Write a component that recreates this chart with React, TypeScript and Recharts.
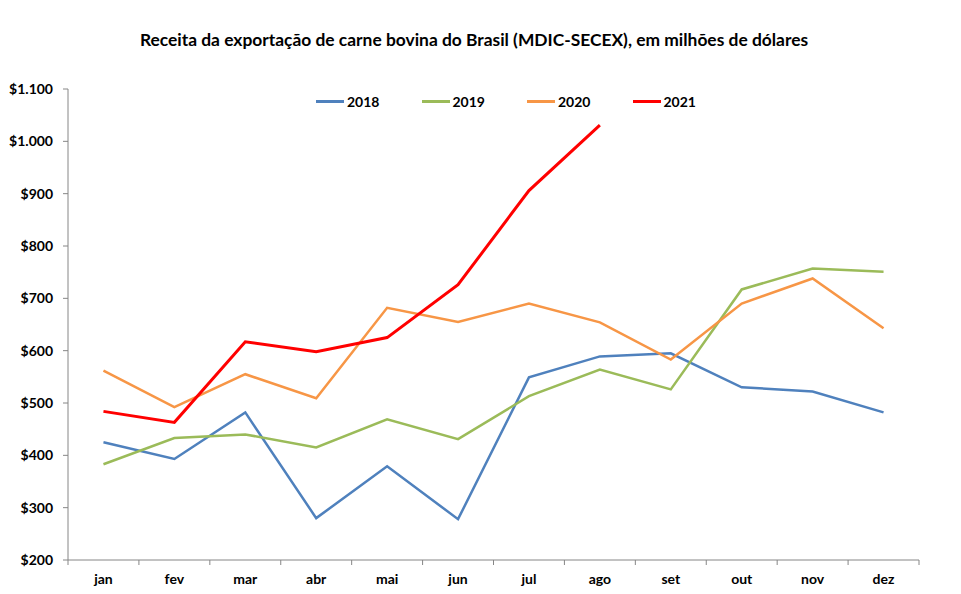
import { LineChart, Line, XAxis, YAxis, Legend } from 'recharts'

const months = ['jan', 'fev', 'mar', 'abr', 'mai', 'jun', 'jul', 'ago', 'set', 'out', 'nov', 'dez']
const s2018 = [425, 393, 482, 280, 379, 278, 549, 589, 595, 530, 522, 482]
const s2019 = [383, 433, 440, 415, 469, 431, 513, 564, 526, 717, 757, 751]
const s2020 = [562, 492, 555, 509, 682, 655, 690, 654, 583, 690, 738, 643]
const s2021 = [484, 463, 617, 598, 625, 726, 906, 1031]
const yTicks = [200, 300, 400, 500, 600, 700, 800, 900, 1000, 1100]
const xTicks = [0, 1, 2, 3, 4, 5, 6, 7, 8, 9, 10, 11, 12]

const series = [
  { key: 'y2018', name: '2018', color: '#4F81BD', width: 2.5 },
  { key: 'y2019', name: '2019', color: '#9BBB59', width: 2.5 },
  { key: 'y2020', name: '2020', color: '#F79646', width: 2.5 },
  { key: 'y2021', name: '2021', color: '#FF0000', width: 3 },
]

const data = months.map((m, i) => ({
  x: i + 0.5,
  month: m,
  y2018: s2018[i],
  y2019: s2019[i],
  y2020: s2020[i],
  y2021: i < s2021.length ? s2021[i] : null,
}))

const FONT = 'Lato, "Open Sans", sans-serif'
const W = 961
const H = 594
const plotLeft = 68
const plotRight = 919
const halfCat = (plotRight - plotLeft) / months.length / 2

const fmt = (v: number) => '$' + v.toLocaleString('de-DE')

const XTick = (props: any) => {
  const { x, y, payload } = props
  const i = payload.value
  if (i >= months.length) return null
  return (
    <text x={x + halfCat} y={y + 17} textAnchor="middle" fontFamily={FONT} fontWeight={700} fontSize={14} fill="#000">
      {months[i]}
    </text>
  )
}

const LegendBox = () => (
  <div style={{ display: 'flex', fontFamily: FONT, fontWeight: 700, fontSize: 14, color: '#000' }}>
    {series.map((s) => (
      <div key={s.key} style={{ display: 'flex', alignItems: 'center', width: 105.5 }}>
        <span style={{ display: 'inline-block', width: 28, height: 3, background: s.color, marginRight: 3 }} />
        <span>{s.name}</span>
      </div>
    ))}
  </div>
)

export default function App() {
  return (
    <div style={{ position: 'absolute', left: 0, top: 0, width: W, height: H, background: '#fff' }}>
      <div
        style={{
          position: 'absolute',
          top: 29,
          left: 0,
          width: 948,
          textAlign: 'center',
          fontFamily: FONT,
          fontWeight: 700,
          fontSize: 17.4,
          color: '#000',
        }}
      >
        Receita da exportação de carne bovina do Brasil (MDIC-SECEX), em milhões de dólares
      </div>
      <LineChart width={W} height={H} data={data} margin={{ top: 89, right: W - plotRight, left: 0, bottom: 4 }}>
        <XAxis
          dataKey="x"
          type="number"
          domain={[0, 12]}
          ticks={xTicks}
          interval={0}
          tick={<XTick />}
          tickSize={5}
          stroke="#868686"
          height={30}
        />
        <YAxis
          domain={[200, 1100]}
          ticks={yTicks}
          interval={0}
          width={plotLeft}
          tickSize={5}
          tickMargin={10}
          tickFormatter={fmt}
          stroke="#868686"
          tick={{ fill: '#000', fontFamily: FONT, fontWeight: 700, fontSize: 14 }}
        />
        <Legend
          layout="horizontal"
          verticalAlign="middle"
          align="center"
          content={<LegendBox />}
          wrapperStyle={{ position: 'absolute', top: 93, left: 316, width: 440 }}
        />
        {series.map((s) => (
          <Line
            key={s.key}
            dataKey={s.key}
            name={s.name}
            stroke={s.color}
            strokeWidth={s.width}
            dot={false}
            type="linear"
            isAnimationActive={false}
          />
        ))}
      </LineChart>
    </div>
  )
}
